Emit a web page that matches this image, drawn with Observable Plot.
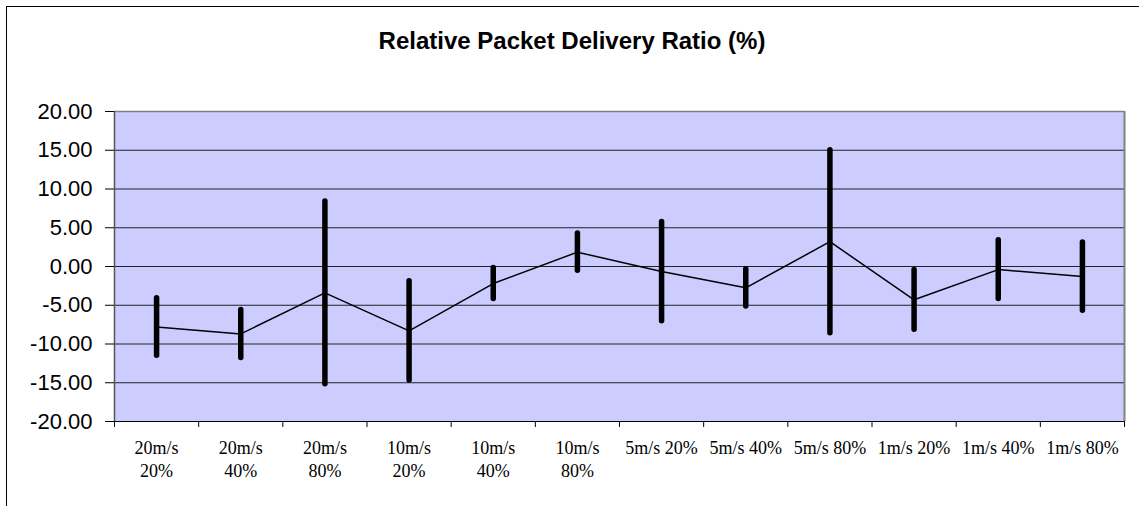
<!DOCTYPE html>
<html>
<head>
<meta charset="utf-8">
<script src="https://cdn.jsdelivr.net/npm/d3@7"></script>
<script src="https://cdn.jsdelivr.net/npm/@observablehq/plot@0.6"></script>
<style>
  html, body { margin: 0; padding: 0; background: #fff; }
  #wrap { position: relative; width: 1139px; height: 506px; overflow: hidden; }
  #border { position: absolute; left: 6px; top: 6px; width: 1200px; height: 600px;
            border-top: 1px solid #000; border-left: 1px solid #000; box-sizing: border-box; }
  #title { position: absolute; left: 0; top: 0; width: 1144px; height: 90px; box-sizing: border-box;
           padding-top: 29px; text-align: center; font: bold 24px "Liberation Sans", Arial, sans-serif;
           line-height: 24px; color: #000; }
  #chart { position: absolute; left: 0; top: 90px; }
</style>
</head>
<body>
<div id="wrap">
  <div id="border"></div>
  <div id="title">Relative Packet Delivery Ratio (%)</div>
  <div id="chart"></div>
</div>
<script>
const categories = ["20m/s 20%", "20m/s 40%", "20m/s 80%", "10m/s 20%", "10m/s 40%", "10m/s 80%",
                    "5m/s 20%", "5m/s 40%", "5m/s 80%", "1m/s 20%", "1m/s 40%", "1m/s 80%"];
const tickLabels = ["20m/s\n20%", "20m/s\n40%", "20m/s\n80%", "10m/s\n20%", "10m/s\n40%", "10m/s\n80%",
                    "5m/s 20%", "5m/s 40%", "5m/s 80%", "1m/s 20%", "1m/s 40%", "1m/s 80%"];
const means  = [-7.8, -8.7, -3.4, -8.3, -2.2, 1.85, -0.65, -2.75, 3.2, -4.3, -0.4, -1.3];
const errors = [3.7, 3.1, 11.8, 6.4, 2.0, 2.4, 6.4, 2.4, 11.8, 3.85, 3.8, 4.4];
const yTicks = [-20, -15, -10, -5, 0, 5, 10, 15, 20];

const data = categories.map((c, i) => ({
  pos: i + 0.5, cat: c, mean: means[i], lo: means[i] - errors[i], hi: means[i] + errors[i]
}));
const bounds = d3.range(categories.length + 1);

const chart = Plot.plot({
  width: 1139,
  height: 416,
  marginTop: 21,
  marginBottom: 85,
  marginLeft: 114,
  marginRight: 15,
  style: { background: "transparent", overflow: "visible" },
  x: { type: "linear", domain: [0, categories.length] },
  y: { domain: [-20, 20] },
  marks: [
    Plot.frame({ fill: "#ccccff", stroke: null }),
    Plot.ruleY(yTicks.filter(t => t > -20 && t < 20), { stroke: "#222", strokeWidth: 1 }),
    Plot.ruleY([20], { stroke: "#808080", strokeWidth: 1.5 }),
    Plot.ruleX([0], { stroke: "#555", strokeWidth: 1.5 }),
    Plot.ruleX([categories.length], { stroke: "#808080", strokeWidth: 2 }),
    Plot.ruleY([-20], { stroke: "#000", strokeWidth: 1.2 }),
    Plot.axisY({
      ticks: yTicks, tickSize: 9, tickPadding: 13, tickFormat: d => d.toFixed(2),
      fontSize: 22, fontFamily: "Liberation Sans, Arial, sans-serif", fill: "#000", stroke: "#000",
      label: null
    }),
    Plot.axisX({
      ticks: bounds, tickSize: 6, tickFormat: () => "", stroke: "#000", label: null
    }),
    Plot.axisX({
      ticks: data.map(d => d.pos), tickSize: 0, tickPadding: 16,
      tickFormat: (d, i) => tickLabels[i],
      fontSize: 18, fontFamily: "Liberation Serif, Times New Roman, serif", fill: "#000",
      lineHeight: 1.28, label: null
    }),
    Plot.line(data, { x: "pos", y: "mean", stroke: "#000", strokeWidth: 1.5 }),
    Plot.ruleX(data, { x: "pos", y1: "lo", y2: "hi", stroke: "#000", strokeWidth: 5.5, strokeLinecap: "round" }),
    Plot.dot(data, { x: "pos", y: "mean", r: 2, fill: "#000", stroke: null })
  ]
});
document.getElementById("chart").appendChild(chart);
</script>
</body>
</html>
